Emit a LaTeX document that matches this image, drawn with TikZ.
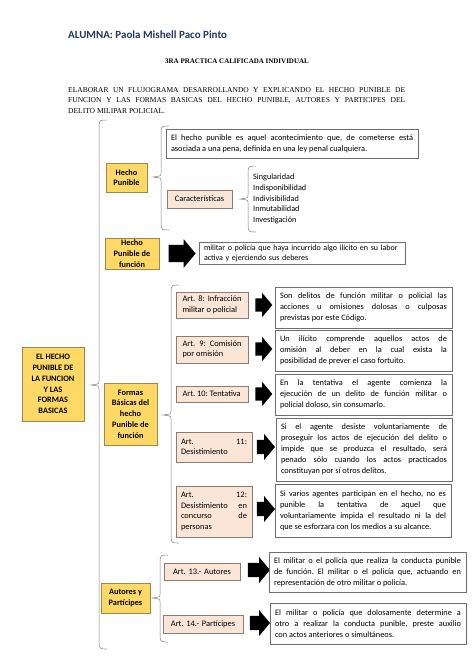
\documentclass[tikz,border=0pt]{standalone}
\usepackage{fontspec}
\setmainfont{Carlito}
\newfontfamily\tnr{Liberation Serif}
\usepackage{xcolor}
\usetikzlibrary{shapes.arrows}
\definecolor{azultit}{HTML}{1F3864}
\definecolor{oro}{HTML}{FFD966}
\definecolor{oroborde}{HTML}{9C8750}
\definecolor{melon}{HTML}{FBE5D6}
\definecolor{melonborde}{HTML}{8C7B72}
\definecolor{grisllave}{HTML}{808080}
\definecolor{grisborde}{HTML}{6E6E6E}
\frenchspacing
\tikzset{
  orobox/.style={draw=oroborde, fill=oro, line width=0.6pt, align=center,
    font=\bfseries\fontsize{8.3}{10.7}\selectfont, inner sep=1pt},
  artbox/.style={draw=melonborde, fill=melon, line width=0.6pt, align=justify,
    font=\fontsize{8.4}{10.5}\selectfont, inner xsep=5pt, inner ysep=2pt},
  textobox/.style={draw=grisborde, fill=white, line width=0.6pt, align=justify,
    font=\fontsize{8.3}{11}\selectfont, inner xsep=5pt, inner ysep=2pt},
  llave/.style={draw=grisllave, line width=0.5pt},
  flecha/.style={single arrow, fill=black, inner sep=0pt, inner ysep=6.5pt,
    single arrow head extend=5.5pt, single arrow tip angle=100}
}
\begin{document}
\begin{tikzpicture}[x=1pt, y=-1pt]
\useasboundingbox (0,0) rectangle (474,669);
\newcommand{\llave}[4]{%% x, arriba, pico, abajo
  \draw[llave] (#1+8,#2) .. controls (#1+1,#2) .. (#1,#2+5) -- (#1,#3-4)
    .. controls (#1,#3-1) .. (#1-8,#3) .. controls (#1,#3+1) .. (#1,#3+4)
    -- (#1,#4-5) .. controls (#1+1,#4) .. (#1+8,#4);}
%% encabezado
\node[anchor=west, inner sep=0pt, text=azultit, font=\bfseries\fontsize{11}{13}\selectfont] (alumna) at (68,35) {ALUMNA: Paola Mishell Paco Pinto};
\node[inner sep=0pt, font=\tnr\bfseries\fontsize{7}{9}\selectfont] (practica) at (237,61) {3RA PRACTICA CALIFICADA INDIVIDUAL};
\node[anchor=north west, inner sep=0pt, text width=337pt, align=justify, font=\tnr\fontsize{7.5}{10.5}\selectfont] (enunciado) at (68,87)
  {ELABORAR UN FLUJOGRAMA DESARROLLANDO Y EXPLICANDO EL HECHO PUNIBLE DE\linebreak
   FUNCION Y LAS FORMAS BASICAS DEL HECHO PUNIBLE, AUTORES Y PARTICIPES DEL\linebreak
   DELITO MILIPAR POLICIAL.};
%% caja principal
\node[orobox, minimum width=62pt, minimum height=74pt] (principal) at (53,384)
  {EL HECHO\\PUNIBLE DE\\LA FUNCION\\Y LAS\\FORMAS\\BASICAS};
\llave{99}{120}{385}{649}
%% hecho punible
\node[orobox, minimum width=41pt, minimum height=29pt] (hp) at (126.5,177.5) {Hecho\\Punible};
\llave{161}{126}{177}{230}
\node[textobox, text width=242pt, minimum height=29pt] (defhp) at (292,143.5)
  {El hecho punible es aquel acontecimiento que, de cometerse está\linebreak
   asociada a una pena, definida en una ley penal cualquiera.};
\node[artbox, align=center, text width=55pt, minimum height=18pt] (carac) at (199.5,199) {Características};
\llave{248}{166}{199}{232}
\node[anchor=west, inner sep=0pt, align=left, font=\fontsize{8.2}{10.7}\selectfont] (lista) at (253,199)
  {Singularidad\\Indisponibilidad\\Indivisibilidad\\Inmutabilidad\\Investigación};
%% hecho punible de funcion
\node[orobox, minimum width=54pt, minimum height=31pt] (hpf) at (132,253.5) {Hecho\\Punible de\\función};
\node[flecha, minimum height=27pt, minimum width=27pt, inner ysep=8.5pt] (flhpf) at (178.5,253.5) {};
\node[textobox, align=left, text width=196pt, minimum height=21pt, font=\fontsize{8}{10.5}\selectfont] (defhpf) at (302,253.5)
  {militar o policía que haya incurrido algo ilícito en su labor\\activa y ejerciendo sus deberes};
%% formas basicas
\node[orobox, minimum width=53pt, minimum height=62pt] (formas) at (130.5,414)
  {Formas\\Básicas del\\hecho\\Punible de\\función};
\llave{171}{285}{415}{543}
\node[artbox, text width=59pt, inner xsep=6.5pt, minimum height=26pt] (art8) at (212,305) {Art. 8: Infracción\linebreak militar o policial};
\node[artbox, text width=59pt, inner xsep=6.5pt, minimum height=27pt] (art9) at (212,349.5) {Art. 9: Comisión\linebreak por omisión};
\node[artbox, text width=59pt, inner xsep=6.5pt, minimum height=16pt] (art10) at (212,394) {Art. 10: Tentativa};
\node[artbox, text width=66pt, minimum height=30pt] (art11) at (214,447) {Art. 11:\linebreak Desistimiento};
\node[artbox, text width=66pt, minimum height=51pt] (art12) at (214,511.5)
  {Art. 12:\linebreak Desistimiento en\linebreak concurso de\linebreak personas};
\node[flecha, minimum height=17pt, minimum width=24pt] (fl8) at (261,305) {};
\node[flecha, minimum height=17pt, minimum width=24pt] (fl9) at (261,349) {};
\node[flecha, minimum height=17pt, minimum width=24pt] (fl10) at (261,394) {};
\node[flecha, minimum height=18pt, minimum width=26pt] (fl11) at (263,447) {};
\node[flecha, minimum height=18pt, minimum width=26pt] (fl12) at (263,509) {};
\node[textobox, text width=167pt, minimum height=41pt] (txt8) at (363.5,307.5)
  {Son delitos de función militar o policial las\linebreak
   acciones u omisiones dolosas o culposas\linebreak
   previstas por este Código.};
\node[textobox, text width=167pt, minimum height=41pt] (txt9) at (363.5,350.5)
  {Un ilícito comprende aquellos actos de\linebreak
   omisión al deber en la cual exista la\linebreak
   posibilidad de prever el caso fortuito.};
\node[textobox, text width=167pt, minimum height=41pt] (txt10) at (363.5,394.5)
  {En la tentativa el agente comienza la\linebreak
   ejecución de un delito de función militar o\linebreak
   policial doloso, sin consumarlo.};
\node[textobox, text width=166pt, minimum height=63pt] (txt11) at (364,449.5)
  {Si el agente desiste voluntariamente de\linebreak
   proseguir los actos de ejecución del delito o\linebreak
   impide que se produzca el resultado, será\linebreak
   penado sólo cuando los actos practicados\linebreak
   constituyan por sí otros delitos.};
\node[textobox, text width=166pt, minimum height=53pt] (txt12) at (363,510.5)
  {Si varios agentes participan en el hecho, no es\linebreak
   punible la tentativa de aquel que\linebreak
   voluntariamente impida el resultado ni la del\linebreak
   que se esforzara con los medios a su alcance.};
%% autores y participes
\node[orobox, minimum width=49pt, minimum height=30pt] (autores) at (125.5,598) {Autores y\\Partícipes};
\llave{160}{555}{598}{642}
\node[artbox, align=center, text width=66pt, minimum height=17pt] (art13) at (202,571.5) {Art. 13.- Autores};
\node[artbox, align=center, text width=70pt, minimum height=18pt] (art14) at (203,624) {Art. 14.- Partícipes};
\node[flecha, minimum height=22pt, minimum width=26pt] (fl13) at (256,570) {};
\node[flecha, minimum height=20pt, minimum width=26pt] (fl14) at (257,623) {};
\node[textobox, text width=187pt, minimum height=40pt] (txt13) at (367.5,572)
  {El militar o el policía que realiza la conducta punible\linebreak
   de función. El militar o el policía que, actuando en\linebreak
   representación de otro militar o policía.};
\node[textobox, text width=186pt, minimum height=41pt] (txt14) at (368,623.5)
  {El militar o policía que dolosamente determine a\linebreak
   otro a realizar la conducta punible, preste auxilio\linebreak
   con actos anteriores o simultáneos.};
\end{tikzpicture}
\end{document}
